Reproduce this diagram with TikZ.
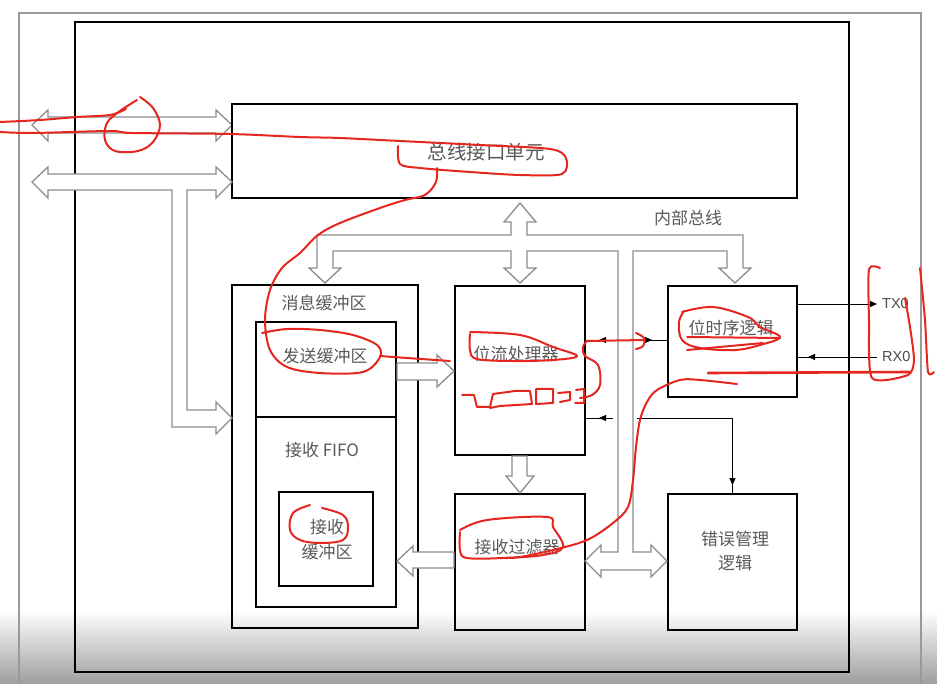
\documentclass[tikz,border=0pt]{standalone}
\usepackage{fontspec}
\newfontfamily\cjk{Noto Sans CJK SC}
\newfontfamily\lat{Liberation Sans}
\usetikzlibrary{arrows.meta,calc}
\definecolor{ink}{HTML}{E5261F}
\begin{document}
\begin{tikzpicture}[x=1pt,y=-1pt,
  box/.style={draw=black,line width=1.8pt,inner sep=0pt},
  lbl/.style={font=\cjk\fontsize{17}{20}\selectfont,text=black!65,inner sep=0pt},
  pin/.style={font=\lat\fontsize{14.5}{16}\selectfont,text=black!70,inner sep=0pt,anchor=west},
  hollow/.style={draw=black!45,line width=1.3pt,fill=white,line join=miter},
  hollowopen/.style={draw=black!45,line width=1.3pt,line join=miter},
  wire/.style={draw=black,line width=0.9pt},
  tip/.style={-{Triangle[length=7pt,width=6pt]}},
  redink/.style={draw=ink,line width=2pt,line cap=round,line join=round}]
\useasboundingbox (0,0) rectangle (937,684);
% screenshot vignette
\shade[top color=white,bottom color=black!38] (0,610) rectangle (937,684);
% frames
\draw[draw=black!40,line width=1.2pt] (19,684) -- (19,13) -- (921,13) -- (921,684);
\draw[line width=1.8pt] (75,22) rectangle (849,672);
% left double arrow 1 (frame shows through)
\draw[hollowopen] (32,125) -- (48,110) -- (48,117) -- (216,117) -- (216,110) -- (232,125)
  -- (216,141) -- (216,133) -- (48,133) -- (48,141) -- cycle;
% boxes
\node[box,minimum width=565pt,minimum height=94pt] (bus) at (514.5,151) {};
\node[box,minimum width=186pt,minimum height=343pt] (msg) at (325,456.5) {};
\node[box,minimum width=140pt,minimum height=95pt] (send) at (326,369.5) {};
\node[box,minimum width=140pt,minimum height=190pt] (fifo) at (326,512) {};
\node[box,minimum width=94pt,minimum height=94pt] (rxbuf) at (326,539) {};
\node[box,minimum width=130pt,minimum height=169pt] (proc) at (520,370.5) {};
\node[box,minimum width=130pt,minimum height=136pt] (filt) at (520,562) {};
\node[box,minimum width=129pt,minimum height=111pt] (btl) at (732.5,341.5) {};
\node[box,minimum width=129pt,minimum height=136pt] (err) at (732.5,562) {};
% labels
\node[lbl,font=\cjk\fontsize{19.5}{22}\selectfont] (busT) at (486,152) {总线接口单元};
\node[lbl] (ibT) at (688,218) {内部总线};
\node[lbl] (msgT) at (324,303) {消息缓冲区};
\node[lbl] (sendT) at (325,356) {发送缓冲区};
\node[lbl] (fifoT) at (322,450) {接收 FIFO};
\node[lbl] (rxT1) at (327,527) {接收};
\node[lbl] (rxT2) at (327,552) {缓冲区};
\node[lbl] (procT) at (516,354) {位流处理器};
\node[lbl] (filtT) at (517,547) {接收过滤器};
\node[lbl] (btlT) at (731,328) {位时序逻辑};
\node[lbl] (errT1) at (735,539) {错误管理};
\node[lbl] (errT2) at (735,563) {逻辑};
\node[pin] (txT) at (882,304) {TX0};
\node[pin] (rxT) at (882,357) {RX0};
% left double arrow 2 with branch to message buffer
\draw[hollow] (32,182) -- (48,167) -- (48,174) -- (216,174) -- (216,167) -- (232,182)
  -- (216,198) -- (216,190) -- (187,190) -- (187,410) -- (216,410) -- (216,402)
  -- (232,418) -- (216,434) -- (216,427) -- (172,427) -- (172,190) -- (48,190)
  -- (48,198) -- cycle;
% internal bus
\draw[hollow] (520,203) -- (536,222) -- (527,222) -- (527,235) -- (743,235) -- (743,268)
  -- (751,268) -- (735,283) -- (719,268) -- (727,268) -- (727,251) -- (633,251)
  -- (633,552) -- (651,552) -- (651,545) -- (667,561) -- (651,577) -- (651,570)
  -- (601,570) -- (601,577) -- (585,561) -- (601,545) -- (601,552) -- (618,552)
  -- (618,251) -- (527,251) -- (527,268) -- (536,268) -- (520,283) -- (504,268)
  -- (511,268) -- (511,251) -- (333,251) -- (333,268) -- (341,268) -- (325,283)
  -- (309,268) -- (317,268) -- (317,235) -- (511,235) -- (511,222) -- (504,222) -- cycle;
% send buffer -> bit stream processor
\draw[hollow] (397,363) -- (437,363) -- (437,355) -- (454,371) -- (437,387) -- (437,380)
  -- (397,380) -- cycle;
% processor -> filter
\draw[hollow] (512,456) -- (527,456) -- (527,476) -- (534,476) -- (520,493) -- (506,476)
  -- (512,476) -- cycle;
% filter -> receive fifo
\draw[hollow] (454,552) -- (413,552) -- (413,546) -- (397,561) -- (413,576) -- (413,568)
  -- (454,568) -- cycle;
% thin signal wires
\coordinate (tx) at (877,304);
\coordinate (rx) at (877,357);
\draw[wire,tip] (btl.east |- tx) -- (tx);
\draw[wire] (rx) -- (btl.east |- rx);
\draw[wire,tip] (rx) -- (808,357);
\coordinate (pb1) at (613,340);
\coordinate (pb2) at (636,340);
\draw[wire] (proc.east |- pb1) -- (pb1);
\draw[wire,tip] (pb1) -- (599,340);
\draw[wire] (pb2) -- (btl.west |- pb2);
\draw[wire,tip] (pb2) -- (652,340);
\coordinate (ep1) at (613,418);
\coordinate (ep2) at (637,418);
\draw[wire] (proc.east |- ep1) -- (ep1);
\draw[wire,tip] (ep1) -- (599,418);
\draw[wire] (ep2) -- (err.north |- ep2) -- (err.north);
\draw[wire,tip] (err.north |- ep2) -- ($(err.north)+(0,-8)$);
% ---- red annotations ----
\draw[redink] plot[smooth,tension=0.5] coordinates {(0,122) (40,120) (77,117) (110,115) (126,109)};
\draw[redink] plot[smooth,tension=0.5] coordinates {(0,132) (33,133) (110,131) (133,133) (230,134) (300,137) (340,138) (400,141) (480,145) (550,149) (566,158) (562,174) (520,175) (470,172) (420,168) (400,164) (398,146)};
\draw[redink] plot[smooth,tension=0.6] coordinates {(140,97) (153,108) (160,125) (153,142) (138,151) (115,151) (105,140) (107,123) (120,111) (137,100)};
\draw[redink] plot[smooth,tension=0.55] coordinates {(437,168) (436,182) (425,195) (405,200) (380,208) (340,223) (318,235) (300,253) (282,268) (270,290) (265,320) (270,350) (287,367) (320,373) (363,372) (380,357) (377,345) (353,335) (320,330) (287,329) (262,333)};
\draw[redink] plot[smooth,tension=0.5] coordinates {(380,356) (407,358) (450,361)};
\draw[redink] plot[smooth,tension=0.6] coordinates {(470,332) (520,335) (553,347) (577,356) (553,360) (513,361) (477,359) (470,350) (470,334)};
\draw[redink] (462,395) -- (474,395) -- (477,407) -- (490,407) -- (493,394) -- (515,391) -- (530,391) -- (532,404) -- (500,406) -- (490,408);
\draw[redink] (536,389) -- (553,389) -- (553,403) -- (536,404) -- cycle;
\draw[redink] (558,393) -- (570,392) -- (570,400) -- (560,402);
\draw[redink] (576,390) -- (584,389) -- (584,403) -- (575,403);
\draw[redink] (586,341) -- (645,340);
\draw[redink] plot[smooth,tension=0.6] coordinates {(636,333) (644,338) (643,346) (636,349)};
\draw[redink] plot[smooth,tension=0.6] coordinates {(587,341) (583,347) (585,356) (598,365) (600,385) (592,395) (580,398)};
\draw[redink] plot[smooth,tension=0.6] coordinates {(682,312) (713,307) (748,317) (760,327) (780,337) (760,345) (735,350) (700,348) (682,340) (679,322) (684,311)};
\draw[redink] (687,337) -- (780,338);
\draw[redink] (687,350) -- (763,343);
\draw[redink] plot[smooth,tension=0.4] coordinates {(880,268) (869,269) (869,320) (872,378) (908,375) (914,360) (910,327) (905,298)};
\draw[redink] plot[smooth,tension=0.4] coordinates {(920,268) (925,320) (928,372) (934,372)};
\draw[redink,line width=2.6pt] (910,372) -- (708,373);
\draw[redink] plot[smooth,tension=0.55] coordinates {(737,384) (700,380) (680,380) (657,390) (647,402) (640,420) (636,447) (633,480) (628,507) (613,523) (587,540) (553,550) (520,557) (505,558)};
\draw[redink] plot[smooth,tension=0.6] coordinates {(460,530) (487,520) (547,517) (553,527) (563,547) (543,555) (503,558) (467,558) (460,550) (460,532)};
\draw[redink] plot[smooth,tension=0.6] coordinates {(310,505) (293,513) (290,530) (300,540) (320,543) (343,540) (348,527) (343,515) (322,508)};
\end{tikzpicture}
\end{document}
